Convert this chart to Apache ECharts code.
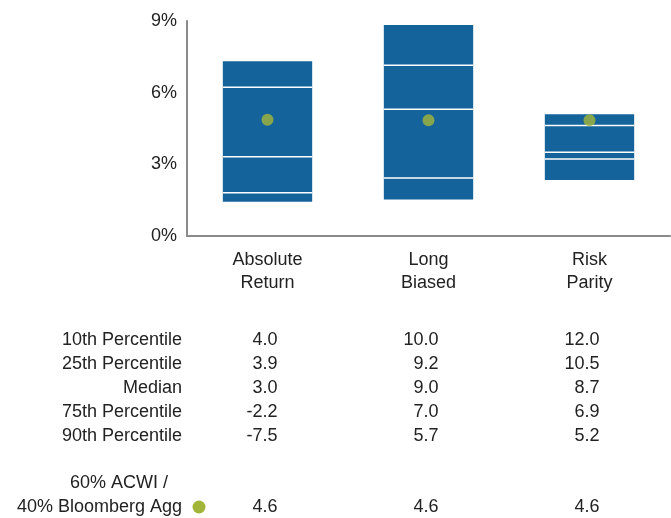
<!DOCTYPE html>
<html>
<head>
<meta charset="utf-8">
<script src="https://cdn.jsdelivr.net/npm/echarts@6/dist/echarts.min.js"></script>
<style>html,body{margin:0;padding:0;background:#fff;}#c{width:671px;height:518px;}</style>
</head>
<body>
<div id="c"></div>
<script>
// ---- data ----
const categories = ['Absolute\nReturn', 'Long\nBiased', 'Risk\nParity'];
const boxBottom = [1.43, 1.53, 2.34];
const line1 = [1.81, 2.43, 3.22];
const line2 = [3.32, 5.31, 3.51];
const line3 = [6.23, 7.15, 4.63];
const boxTop = [7.31, 8.83, 5.10];
const benchmark = [4.87, 4.85, 4.85];
const yMin = 0, yMax = 9, yStep = 3;

const tableRowLabels = ['10th Percentile', '25th Percentile', 'Median', '75th Percentile', '90th Percentile'];
const tableAbsoluteReturn = ['4.0', '3.9', '3.0', '-2.2', '-7.5'];
const tableLongBiased = ['10.0', '9.2', '9.0', '7.0', '5.7'];
const tableRiskParity = ['12.0', '10.5', '8.7', '6.9', '5.2'];
const benchmarkLabel = ['60% ACWI /', '40% Bloomberg Agg'];
const benchmarkTable = ['4.6', '4.6', '4.6'];

const BLUE = '#15639b';
const GREEN = '#a3b538';
const TEXT = '#222222';
const FONT = 'Liberation Sans, Arial, sans-serif';
const FS = 18;

const chart = echarts.init(document.getElementById('c'), null, {renderer: 'canvas'});

function renderBox(params, api) {
  const x = api.value(0);
  const lo = api.coord([x, api.value(1)]);
  const hi = api.coord([x, api.value(5)]);
  const bw = api.size([1, 0])[0] * 0.555;
  const left = lo[0] - bw / 2;
  const children = [{
    type: 'rect',
    shape: {x: left, y: hi[1], width: bw, height: lo[1] - hi[1]},
    style: {fill: BLUE}
  }];
  [2, 3, 4].forEach(k => {
    const p = api.coord([x, api.value(k)]);
    children.push({
      type: 'line',
      shape: {x1: left, y1: p[1], x2: left + bw, y2: p[1]},
      style: {stroke: '#ffffff', lineWidth: 1.5}
    });
  });
  return {type: 'group', children};
}

chart.setOption({
  animation: false,
  grid: {left: 187, right: 1, top: 21, bottom: 282, containLabel: false},
  xAxis: {
    type: 'category',
    data: categories,
    axisLine: {show: true, lineStyle: {color: '#8a8a8a', width: 2}},
    axisTick: {show: false},
    axisLabel: {color: TEXT, fontSize: FS, fontFamily: FONT, lineHeight: 23, margin: 13}
  },
  yAxis: {
    type: 'value',
    min: yMin, max: yMax, interval: yStep,
    axisLine: {show: true, lineStyle: {color: '#8a8a8a', width: 2}},
    axisTick: {show: false},
    splitLine: {show: false},
    axisLabel: {color: TEXT, fontSize: FS, fontFamily: FONT, margin: 10, formatter: '{value}%'}
  },
  series: [{
    type: 'custom',
    renderItem: renderBox,
    encode: {x: 0, y: [1, 5]},
    data: categories.map((c, i) => [i, boxBottom[i], line1[i], line2[i], line3[i], boxTop[i]]),
    z: 2
  }, {
    type: 'scatter',
    data: benchmark,
    symbol: 'circle',
    symbolSize: 12,
    itemStyle: {color: GREEN},
    z: 5
  }]
});

// ---- table under the chart ----
const cols = [tableAbsoluteReturn, tableLongBiased, tableRiskParity];
const rowY = [340, 364, 388, 412, 436];
const g = [];
function txt(text, x, y, align) {
  return {type: 'text', x, y, style: {text, fill: TEXT, font: FS + 'px ' + FONT, align: align, verticalAlign: 'middle'}};
}
tableRowLabels.forEach((lab, r) => g.push(txt(lab, 182, rowY[r], 'right')));
cols.forEach((col, ci) => {
  const cx = chart.convertToPixel({xAxisIndex: 0}, ci);
  col.forEach((v, r) => g.push(txt(v, cx + 10, rowY[r], 'right')));
  g.push(txt(benchmarkTable[ci], cx + 10, 507, 'right'));
});
g.push(txt(benchmarkLabel[0], 168, 483, 'right'));
g.push(txt(benchmarkLabel[1], 182, 507, 'right'));
g.push({type: 'circle', shape: {cx: 199, cy: 507, r: 6.5}, style: {fill: GREEN}});
chart.setOption({graphic: g});
</script>
</body>
</html>
